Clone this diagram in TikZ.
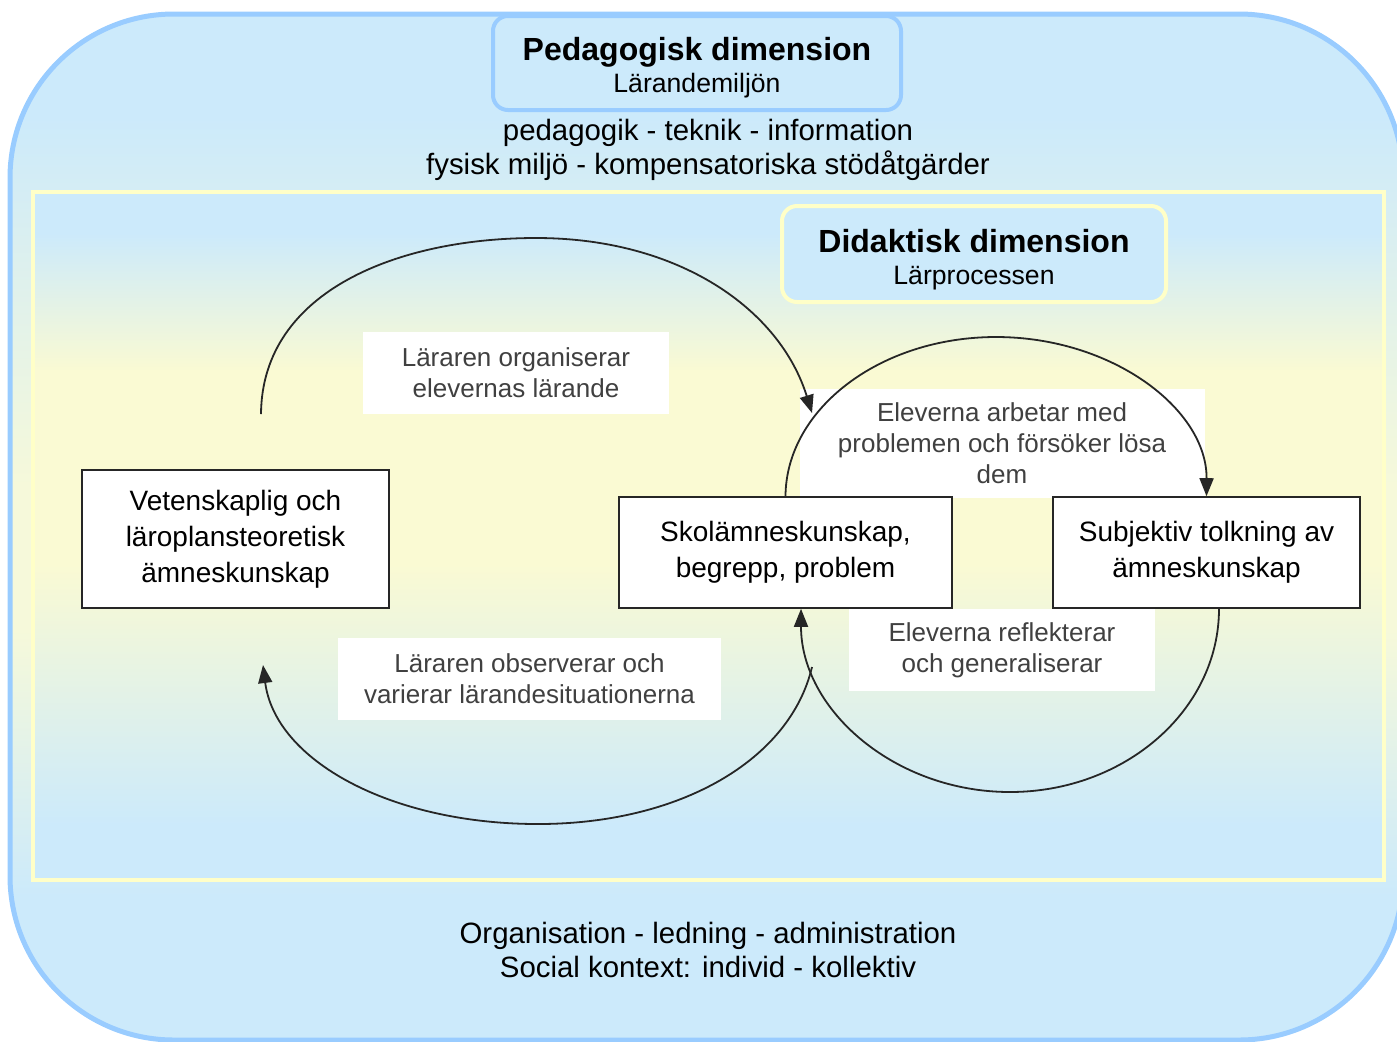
\documentclass[tikz,border=0pt]{standalone}
\usepackage{fontspec}
\setmainfont{Liberation Sans}
\usetikzlibrary{arrows.meta, calc}

\definecolor{skyfill}{HTML}{CCEAFB}
\definecolor{skyframe}{HTML}{99CCFF}
\definecolor{lemonframe}{HTML}{FFFFC8}
\definecolor{lemonfill}{HTML}{FAFAD3}
\definecolor{palelemon}{HTML}{F6F9DA}

\pgfdeclareverticalshading{innerband}{100bp}{color(0bp)=(skyfill); color(29bp)=(skyfill);
  color(48bp)=(lemonfill); color(62bp)=(lemonfill); color(72bp)=(skyfill); color(100bp)=(skyfill)}
\pgfdeclareverticalshading{outerband}{100bp}{color(0bp)=(skyfill); color(32bp)=(skyfill);
  color(45bp)=(palelemon); color(52bp)=(palelemon); color(70bp)=(skyfill); color(100bp)=(skyfill)}

\begin{document}
\begin{tikzpicture}[x=0.5pt, y=-0.5pt,
  outerframe/.style={draw=skyframe, line width=2.5pt, rounded corners=82pt,
    shade, shading=outerband},
  innerframe/.style={draw=lemonframe, line width=2pt, shade, shading=innerband},
  dimbox/.style={rounded corners=7.5pt, line width=2pt, fill=skyfill},
  dimtext/.style={align=center, font=\fontsize{13.3}{16}\selectfont},
  band/.style={align=center, font=\fontsize{14.7}{17}\selectfont},
  note/.style={fill=white, align=center, text=black!75, font=\fontsize{13}{15.5}\selectfont},
  kbox/.style={draw=black!85, line width=0.8pt, fill=white, align=center,
    font=\fontsize{14}{18}\selectfont},
  flow/.style={line width=0.9pt, draw=black!85, -{Triangle[length=9pt, width=7pt]}}]

  \useasboundingbox (0,0) rectangle (1397,1041);
  \clip (0,0) rectangle (1397,1041);

  % ramar
  \draw[outerframe] (10,14) rectangle (1403,1040);
  \draw[innerframe] (33,192) rectangle (1384,880);

  % pedagogisk dimension
  \node[dimbox, draw=skyframe, minimum width=204pt, minimum height=47pt] (ped) at (697,63) {};
  \node[dimtext] (pedtitle) at (697,68) {{\fontsize{16}{16}\selectfont\bfseries Pedagogisk dimension}\\Lärandemiljön};
  \node[band] (pedlist) at (708,150) {pedagogik - teknik - information\\fysisk miljö - kompensatoriska stödåtgärder};
  \node[band] (orglist) at (708,950) {Organisation - ledning - administration\\Social kontext: individ - kollektiv};

  % didaktisk dimension
  \node[dimbox, draw=lemonframe, minimum width=192pt, minimum height=48pt] (did) at (974,254) {};
  \node[dimtext] (didtitle) at (974,260) {{\fontsize{16}{16}\selectfont\bfseries Didaktisk dimension}\\Lärprocessen};

  % texter vid pilarna
  \node[note, minimum width=153pt, minimum height=41pt] (organiserar) at (516,373) {Läraren organiserar\\elevernas lärande};
  \node[note, minimum width=202.5pt, minimum height=54.5pt] (arbetar) at (1002,443) {Eleverna arbetar med\\problemen och försöker lösa\\dem};
  \node[note, minimum width=153pt, minimum height=41pt] (reflekterar) at (1002,650) {Eleverna reflekterar\\och generaliserar};
  \node[note, minimum width=191.5pt, minimum height=41pt] (observerar) at (529.5,679) {Läraren observerar och\\varierar lärandesituationerna};

  % kunskapsrutor
  \node[kbox, minimum width=153.5pt, minimum height=69pt] (vet) at (235.5,539) {Vetenskaplig och\\läroplansteoretisk\\ämneskunskap};
  \node[kbox, minimum width=166.5pt, minimum height=55.5pt] (skol) at (785.5,552.5) {Skolämneskunskap,\\begrepp, problem};
  \node[kbox, minimum width=153.5pt, minimum height=55.5pt] (subj) at (1206.5,552.5) {Subjektiv tolkning av\\ämneskunskap};

  \coordinate (upstart) at (261,414);
  \coordinate (upend) at (812,413);
  \coordinate (lowstart) at (812,667);
  \coordinate (lowend) at (263,665);

  % pilar
  \draw[flow] (upstart) .. controls (262,290) and (400,238) .. (536,238)
    .. controls (680,238) and (780,310) .. (upend);
  \draw[flow] (skol.north) .. controls (786,409) and (880,337) .. (996,337)
    .. controls (1112,337) and (1207,409) .. (subj.north);
  \draw[flow] ($(subj.south)+(12.5,0)$) .. controls (1219,710) and (1125,792) .. (1010,792)
    .. controls (895,792) and (801,710) .. ($(skol.south)+(15.5,0)$);
  \draw[flow] (lowstart) .. controls (790,760) and (680,824) .. (538,824)
    .. controls (390,824) and (275,760) .. (lowend);
\end{tikzpicture}
\end{document}
